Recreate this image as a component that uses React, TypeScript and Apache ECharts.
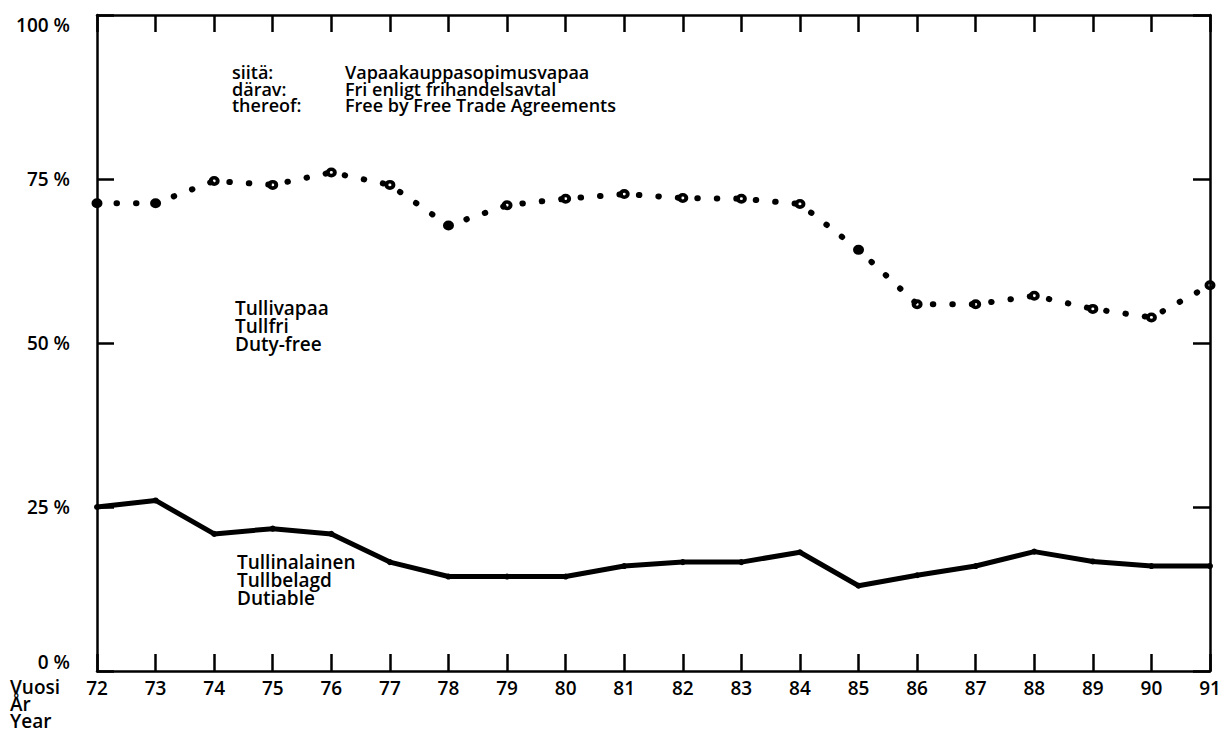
import React, { useEffect, useRef } from "react";
import * as echarts from "echarts";

const years = ["72", "73", "74", "75", "76", "77", "78", "79", "80", "81", "82", "83", "84", "85", "86", "87", "88", "89", "90", "91"];
const freeTradeShare = [71.3, 71.3, 74.7, 74.1, 76.0, 74.1, 67.9, 71.0, 72.0, 72.7, 72.1, 72.0, 71.2, 64.2, 55.9, 55.9, 57.2, 55.2, 53.9, 58.8];
const dutiableShare = [25.0, 26.0, 20.9, 21.7, 20.9, 16.6, 14.4, 14.4, 14.4, 16.0, 16.6, 16.6, 18.1, 13.0, 14.6, 16.0, 18.2, 16.7, 16.0, 16.0];
const yTicks = [0, 25, 50, 75, 100];
const ftaLabels = [
  ["siitä:", "Vapaakauppasopimusvapaa"],
  ["därav:", "Fri enligt frihandelsavtal"],
  ["thereof:", "Free by Free Trade Agreements"],
];
const dutyFreeLabels = ["Tullivapaa", "Tullfri", "Duty-free"];
const dutiableLabels = ["Tullinalainen", "Tullbelagd", "Dutiable"];
const yearLabels = ["Vuosi", "År", "Year"];

const FONT = "'Open Sans', 'DejaVu Sans', sans-serif";
const WEIGHT = 600;
const RING =
  "path://M0,-5 A5,5 0 1,1 0,5 A5,5 0 1,1 0,-5 Z M0,-1.4 A1.4,1.4 0 1,0 0,1.4 A1.4,1.4 0 1,0 0,-1.4 Z";

export default function App() {
  const ref = useRef<HTMLDivElement>(null);
  useEffect(() => {
    if (!ref.current) return;
    const chart = echarts.init(ref.current, null, { renderer: "svg" });
    const txt = (t: string, x: number, y: number, size: number) => ({
      type: "text",
      x,
      y,
      style: { text: t, fill: "#000", font: `${WEIGHT} ${size}px ${FONT}`, textVerticalAlign: "middle" },
    });
    const graphics: any[] = [];
    ftaLabels.forEach((row, i) => {
      graphics.push(txt(row[0], 232, 72 + i * 16.7, 18));
      graphics.push(txt(row[1], 345, 72 + i * 16.7, 18));
    });
    dutyFreeLabels.forEach((t, i) => graphics.push(txt(t, 235, 308 + i * 18, 19)));
    dutiableLabels.forEach((t, i) => graphics.push(txt(t, 237, 562 + i * 18, 19)));
    yearLabels.forEach((t, i) => graphics.push(txt(t, 10, 687 + i * 17, 19)));

    const axisLine = { show: true, onZero: false, lineStyle: { color: "#000", width: 2.5 } };
    const tick = { show: true, inside: true, length: 17, lineStyle: { color: "#000", width: 2.5 } };
    const labelFont = { color: "#000", fontSize: 19, fontFamily: FONT, fontWeight: WEIGHT };

    chart.setOption({
      animation: false,
      backgroundColor: "#fff",
      grid: { left: 97, right: 17, top: 15, bottom: 78 },
      xAxis: [
        {
          type: "category",
          data: years,
          boundaryGap: false,
          position: "bottom",
          axisLine,
          axisTick: tick,
          axisLabel: { ...labelFont, margin: 7 },
          splitLine: { show: false },
        },
        {
          type: "category",
          data: years,
          boundaryGap: false,
          position: "top",
          axisLine,
          axisTick: tick,
          axisLabel: { show: false },
          splitLine: { show: false },
        },
      ],
      yAxis: [
        {
          type: "value",
          min: 0,
          max: 100,
          interval: 25,
          position: "left",
          axisLine,
          axisTick: tick,
          axisLabel: {
            ...labelFont,
            margin: 27,
            verticalAlignMinLabel: "bottom",
            verticalAlignMaxLabel: "top",
            formatter: (v: number) => (yTicks.includes(v) ? `${v} %` : ""),
          },
          splitLine: { show: false },
        },
        {
          type: "value",
          min: 0,
          max: 100,
          interval: 25,
          position: "right",
          axisLine,
          axisTick: tick,
          axisLabel: { show: false },
          splitLine: { show: false },
        },
      ],
      series: [
        {
          type: "line",
          data: freeTradeShare,
          clip: false,
          symbol: RING,
          symbolSize: [11, 10],
          itemStyle: { color: "#000" },
          lineStyle: { color: "#000", width: 6, type: [0.5, 19], cap: "round" },
          z: 3,
        },
        {
          type: "line",
          data: dutiableShare,
          clip: false,
          symbol: "circle",
          symbolSize: 6,
          itemStyle: { color: "#000" },
          lineStyle: { color: "#000", width: 5, join: "round" },
        },
      ],
      graphic: graphics,
    });
    return () => chart.dispose();
  }, []);
  return <div ref={ref} style={{ position: "absolute", left: 0, top: 0, width: 1227, height: 749 }} />;
}
